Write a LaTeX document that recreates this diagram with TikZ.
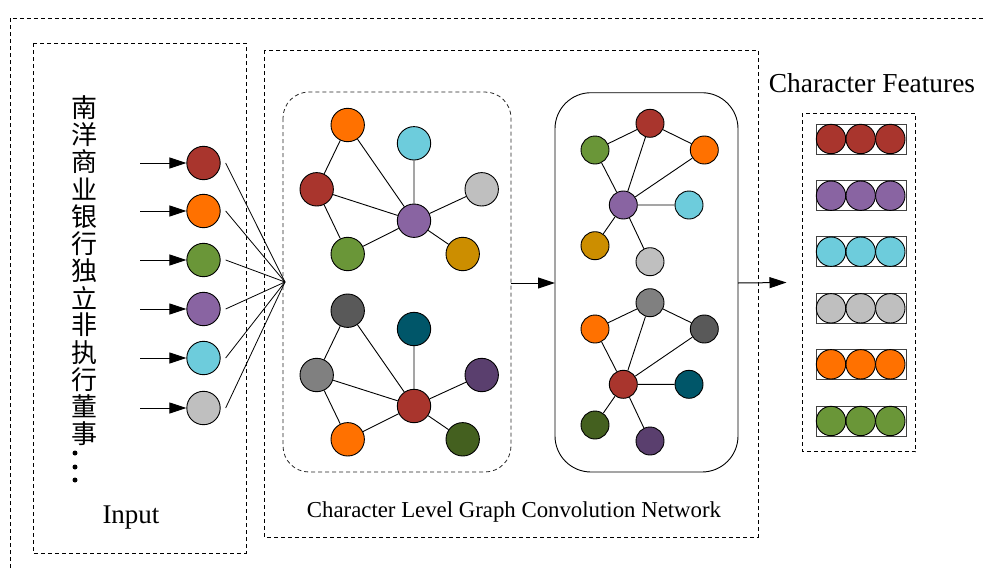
\documentclass[tikz,border=0pt]{standalone}
\usepackage{fontspec}
\setmainfont{Liberation Serif}
\newfontfamily\cjk{Noto Sans CJK SC}
\usetikzlibrary{arrows.meta,calc}

\definecolor{cRed}{HTML}{A9352D}
\definecolor{cOrange}{HTML}{FF7100}
\definecolor{cGreen}{HTML}{6A9638}
\definecolor{cPurple}{HTML}{8964A2}
\definecolor{cCyan}{HTML}{6DCCDC}
\definecolor{cLight}{HTML}{BFBFBF}
\definecolor{cGold}{HTML}{CC8E00}
\definecolor{cDark}{HTML}{595959}
\definecolor{cMid}{HTML}{808080}
\definecolor{cTeal}{HTML}{005669}
\definecolor{cDPurple}{HTML}{5A3F6E}
\definecolor{cDGreen}{HTML}{44601F}

\tikzset{
  frame/.style={draw, dash pattern=on 4pt off 3pt, line width=0.8pt},
  bigdot/.style={circle, draw=black, line width=0.9pt, minimum size=33.4pt, inner sep=0pt},
  smalldot/.style={circle, draw=black, line width=0.9pt, minimum size=28pt, inner sep=0pt},
  featdot/.style={circle, draw=black, line width=0.9pt, minimum size=29.4pt, inner sep=0pt},
  featbar/.style={draw=black!75, line width=0.9pt, minimum width=90pt, minimum height=30pt, inner sep=0pt},
  edge/.style={line width=0.9pt},
  arr/.style={-{Triangle[length=17pt,width=11pt]}, line width=1pt},
}

\begin{document}
\begin{tikzpicture}[x=1pt,y=-1pt]
\useasboundingbox (0,0) rectangle (983,568);

% outer frame (runs off the page on the right and bottom)
\draw[frame] (10,568) -- (10,18) -- (983,18);

% input block
\draw[frame] (33,43) rectangle (246,553);
\foreach \ch [count=\i] in {南,洋,商,业,银,行,独,立,非,执,行,董,事}
  \node[font=\cjk\fontsize{26pt}{26pt}\selectfont, inner sep=0pt] (ch\i) at (84,{107.5+27.2*(\i-1)}) {\ch};
\foreach \i/\yy in {1/453,2/467,3/480}
  \node[circle, fill=black, minimum size=5pt, inner sep=0pt] (ell\i) at (75,\yy) {};
\node[font=\fontsize{27pt}{27pt}\selectfont] (inputlbl) at (131,518) {Input};

\coordinate (conv) at (285,282);
\foreach \i/\yy/\col in {1/163/cRed,2/211/cOrange,3/260/cGreen,4/309/cPurple,5/358/cCyan,6/408/cLight}{
  \node[bigdot, fill=\col] (in\i) at (203.5,\yy) {};
  \coordinate (src\i) at (140,\yy);
  \draw[arr] (src\i) -- (in\i);
  \draw[line width=0.8pt] ($(in\i.east)+(5,0)$) -- (conv);
}

% graph convolution block
\draw[frame] (264,50) rectangle (758,537);
\node[font=\fontsize{22.8pt}{22.8pt}\selectfont] (gcnlbl) at (514,512) {Character Level Graph Convolution Network};

% first layer graphs
\draw[frame, draw=black!85, rounded corners=26pt] (283,92) rectangle (511,472);
\coordinate (b1e) at (511,283);

\node[bigdot, fill=cOrange] (a1) at (347.7,125) {};
\node[bigdot, fill=cCyan]   (a2) at (414,143.3) {};
\node[bigdot, fill=cRed]    (a3) at (316.7,189.3) {};
\node[bigdot, fill=cLight]  (a4) at (481.7,189.3) {};
\node[bigdot, fill=cPurple] (a5) at (414,220.7) {};
\node[bigdot, fill=cGreen]  (a6) at (347.7,254) {};
\node[bigdot, fill=cGold]   (a7) at (462.7,254) {};
\draw[edge] (a1)--(a3) (a1)--(a5) (a3)--(a5) (a3)--(a6) (a2)--(a5) (a4)--(a5) (a6)--(a5) (a7)--(a5);

\node[bigdot, fill=cDark]    (b1) at (347.7,310.7) {};
\node[bigdot, fill=cTeal]    (b2) at (414,329) {};
\node[bigdot, fill=cMid]     (b3) at (316.7,375) {};
\node[bigdot, fill=cDPurple] (b4) at (481.7,375) {};
\node[bigdot, fill=cRed]     (b5) at (414,406) {};
\node[bigdot, fill=cOrange]  (b6) at (347.7,439.3) {};
\node[bigdot, fill=cDGreen]  (b7) at (462.7,439.3) {};
\draw[edge] (b1)--(b3) (b1)--(b5) (b3)--(b5) (b3)--(b6) (b2)--(b5) (b4)--(b5) (b6)--(b5) (b7)--(b5);

% second layer graphs
\draw[line width=0.9pt, rounded corners=36pt] (555,92.7) rectangle (738,472);
\coordinate (b2w) at (555,283);
\coordinate (b2e) at (738,283);
\draw[arr] (b1e) -- (b2w);

\node[smalldot, fill=cRed]    (p1) at (650,123.3) {};
\node[smalldot, fill=cGreen]  (p2) at (595,150) {};
\node[smalldot, fill=cOrange] (p3) at (704.3,150) {};
\node[smalldot, fill=cPurple] (p4) at (623.3,205) {};
\node[smalldot, fill=cCyan]   (p5) at (689,205) {};
\node[smalldot, fill=cGold]   (p6) at (595,245.7) {};
\node[smalldot, fill=cLight]  (p7) at (650,261.7) {};
\draw[edge] (p2)--(p1) (p1)--(p3) (p2)--(p4) (p1)--(p4) (p3)--(p4) (p4)--(p5) (p4)--(p6) (p4)--(p7);

\node[smalldot, fill=cMid]     (q1) at (650,302.7) {};
\node[smalldot, fill=cOrange]  (q2) at (595,329) {};
\node[smalldot, fill=cDark]    (q3) at (704.3,329) {};
\node[smalldot, fill=cRed]     (q4) at (623.3,384.3) {};
\node[smalldot, fill=cTeal]    (q5) at (689,384.3) {};
\node[smalldot, fill=cDGreen]  (q6) at (595,425) {};
\node[smalldot, fill=cDPurple] (q7) at (650,441) {};
\draw[edge] (q2)--(q1) (q1)--(q3) (q2)--(q4) (q1)--(q4) (q3)--(q4) (q4)--(q5) (q4)--(q6) (q4)--(q7);

% output features
\coordinate (ftip) at (786.5,282.5);
\draw[arr] (b2e) -- (ftip);
\node[font=\fontsize{27.4pt}{27.4pt}\selectfont] (featlbl) at (872,83) {Character Features};
\draw[frame] (802.3,113.3) rectangle (915.7,451.7);
\foreach \i/\yy/\col in {1/139/cRed,2/195.7/cPurple,3/251.7/cCyan,4/308.3/cLight,5/364.3/cOrange,6/421/cGreen}{
  \node[featbar] (bar\i) at (861,\yy) {};
  \node[featdot, fill=\col] (f\i a) at (831,\yy) {};
  \node[featdot, fill=\col] (f\i b) at (860.7,\yy) {};
  \node[featdot, fill=\col] (f\i c) at (890.3,\yy) {};
}
\end{tikzpicture}
\end{document}
